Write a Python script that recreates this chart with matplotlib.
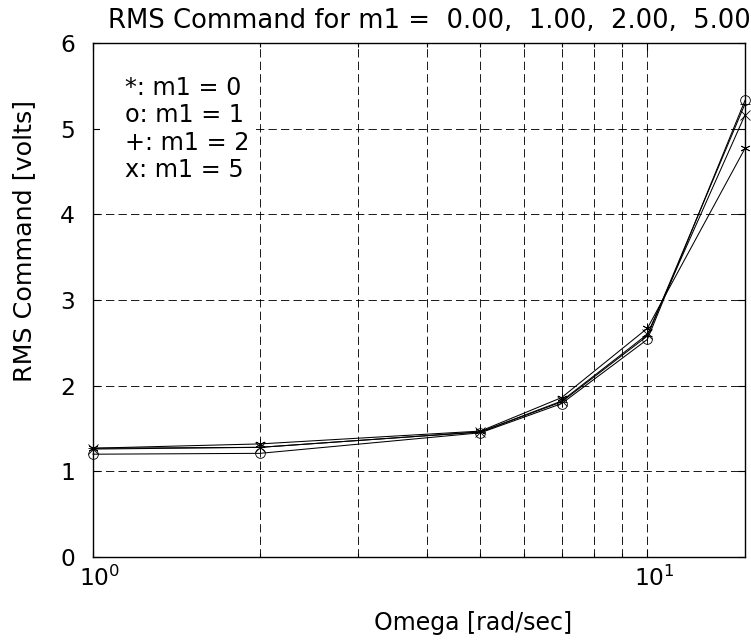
import matplotlib
matplotlib.use("Agg")
import matplotlib.pyplot as plt
from matplotlib.patches import Rectangle
from matplotlib.transforms import ScaledTranslation
from matplotlib.ticker import FixedLocator, NullFormatter

plt.rcParams['font.family'] = ['DejaVu Sans']
plt.rcParams['lines.scale_dashes'] = False

# ---- data ----
omega = [1, 2, 5, 7, 10, 15]
rms_m1_0 = [1.27, 1.32, 1.47, 1.86, 2.67, 4.77]
rms_m1_1 = [1.20, 1.21, 1.45, 1.79, 2.54, 5.33]
rms_m1_2 = [1.27, 1.28, 1.46, 1.81, 2.58, 5.29]
rms_m1_5 = [1.26, 1.28, 1.46, 1.82, 2.60, 5.16]
series = [rms_m1_0, rms_m1_1, rms_m1_2, rms_m1_5]
markers = [(6, 2, 0), 'o', '+', 'x']
legend_lines = ["*: m1 = 0", "o: m1 = 1", "+: m1 = 2", "x: m1 = 5"]
title = "RMS Command for m1 =  0.00,  1.00,  2.00,  5.00"
xlabel = "Omega [rad/sec]"
ylabel = "RMS Command [volts]"
yticks = [0, 1, 2, 3, 4, 5, 6]
xticks = [1, 10]
xticklabels = [r"$10^{0}$", r"$10^{1}$"]

W, H = 751, 641
fig = plt.figure(figsize=(W / 100, H / 100), dpi=100)
L, R, T, B = 93, 745, 43, 557
ax = fig.add_axes([L / W, 1 - B / H, (R - L) / W, (B - T) / H])

for ys, m in zip(series, markers):
    ax.plot(omega, ys, color='k', lw=0.75, marker=m, markersize=7,
            markerfacecolor='none', markeredgecolor='k', markeredgewidth=0.6,
            clip_on=False, zorder=3)

ax.set_xscale('log')
ax.set_xlim(1, 15)
ax.set_ylim(0, 6)
ax.set_yticks(yticks)
ax.set_yticklabels([str(v) for v in yticks])
ax.xaxis.set_major_locator(FixedLocator(xticks))
ax.set_xticklabels(xticklabels)
ax.xaxis.set_minor_locator(FixedLocator([2, 3, 4, 5, 6, 7, 8, 9]))
ax.xaxis.set_minor_formatter(NullFormatter())

gstyle = dict(color='k', lw=0.7, linestyle=(0, (6, 3)), alpha=0.9)
ax.grid(True, which='both', axis='x', **gstyle)
ax.grid(True, which='major', axis='y', **gstyle)

ax.tick_params(which='both', direction='in', top=True, right=True, width=0.8)
ax.tick_params(which='major', length=5)
ax.tick_params(which='minor', length=3)
ax.tick_params(axis='y', labelsize=16.8, pad=13)
ax.tick_params(axis='x', labelsize=16.8, pad=6)
for sp in ax.spines.values():
    sp.set_linewidth(1.0)

off = ScaledTranslation(7 / 100, 0, fig.dpi_scale_trans)
for lbl in ax.get_xticklabels():
    lbl.set_transform(lbl.get_transform() + off)

# white box behind the legend text
ax.add_patch(Rectangle((1.03, 4.3), 1.96 - 1.03, 1.65, facecolor='white',
                       edgecolor='none', zorder=1.8))
x0 = (125 - L) / (R - L)
y0 = (B - 88) / (B - T)
dy = 27.3 / (B - T)
for i, s in enumerate(legend_lines):
    ax.text(x0, y0 - i * dy, s, transform=ax.transAxes, ha='left', va='center',
            fontsize=17.2, zorder=4)

ax.set_title(title, fontsize=18.6, x=(429 - L) / (R - L), y=(B - 28) / (B - T),
             va='baseline', ha='center', pad=0)
ax.set_xlabel(xlabel, fontsize=17, ha='center', va='center')
ax.xaxis.set_label_coords((473.5 - L) / (R - L), (B - 623) / (B - T))
ax.set_ylabel(ylabel, fontsize=18.3, ha='center', va='center')
ax.yaxis.set_label_coords((24 - L) / (R - L), (B - 240.5) / (B - T))

fig.savefig("out.png", dpi=100)
